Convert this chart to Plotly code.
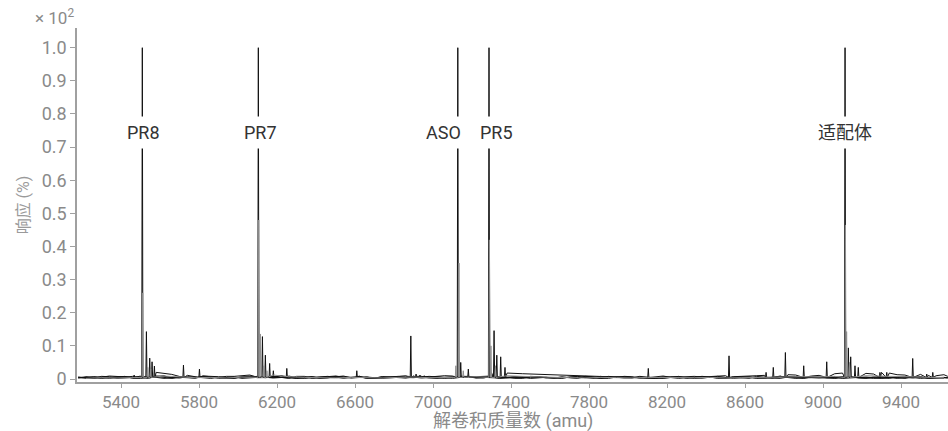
import plotly.graph_objects as go

# ---------------- data (response in %, mass in amu) ----------------
GRID_A = [5180, 5260, 5340, 5420, 5500, 5580, 5660, 5740, 5820, 5900,
          5980, 6060, 6140, 6220, 6300, 6380, 6460, 6540, 6620, 6700,
          6780, 6860, 6940, 7020, 7100, 7180, 7260, 7340, 7420, 7500,
          7580, 7660, 7740, 7820, 7900, 7980, 8060, 8140, 8220, 8300,
          8380, 8460, 8540, 8620, 8700, 8780, 8860, 8940, 9020, 9100,
          9180, 9260, 9340, 9420, 9500, 9580, 9640]
GRID_B = [5220, 5300, 5380, 5460, 5540, 5620, 5700, 5780, 5860, 5940,
          6020, 6100, 6180, 6260, 6340, 6420, 6500, 6580, 6660, 6740,
          6820, 6900, 6980, 7060, 7140, 7220, 7300, 7380, 7460, 7540,
          7620, 7700, 7780, 7860, 7940, 8020, 8100, 8180, 8260, 8340,
          8420, 8500, 8580, 8660, 8740, 8820, 8900, 8980, 9060, 9140,
          9220, 9300, 9380, 9460, 9540, 9620]

PR8_BASE = [0.6, 0.2, 0.9, 0.5, 0.9, 2.0, 1.4, 1.1, 0.9, 0.7,
            0.3, 0.9, 0.4, 1.0, 0.2, 0.5, 0.8, 0.3, 0.6, 0.2,
            0.5, 0.9, 0.3, 0.6, 0.2, 0.8, 0.5, 0.3, 0.7, 0.2,
            0.5, 0.3, 0.8, 0.2, 0.5, 0.7, 0.3, 0.2, 0.7, 0.5,
            0.3, 0.8, 0.2, 0.5, 0.3, 0.7, 0.2, 0.6, 0.3, 0.7,
            0.5, 0.2, 0.4, 0.7, 0.2, 0.5, 0.4]
PR8_PEAK_X = [5467, 5509, 5530, 5547, 5559, 5571, 5720, 5802]
PR8_PEAK_Y = [1.2, 100, 14.3, 6.3, 5.2, 3.9, 4.2, 3.0]

PR7_BASE = [0.4, 0.8, 0.2, 0.6, 0.5, 0.9, 0.3, 0.6, 0.2, 0.8,
            0.9, 1.6, 1.3, 0.9, 0.6, 0.3, 0.8, 0.5, 0.2, 0.7,
            0.3, 0.8, 0.5, 0.2, 0.6, 0.3, 0.9, 0.5, 0.2, 0.7,
            0.3, 0.5, 0.8, 0.2, 0.6, 0.3, 0.5, 0.2, 0.8, 0.4,
            0.6, 0.2, 0.5, 0.8, 0.3, 0.6, 0.2, 0.5, 0.3, 0.8,
            0.2, 0.5, 0.7, 0.3, 0.2, 0.5]
PR7_EXTRA = [0.5, 0.2, 0.7, 0.3, 0.6, 0.9, 0.4, 0.7, 0.3, 0.5,
             0.8, 1.2, 1.4, 1.0, 0.4, 0.7, 0.3, 0.6, 0.9, 0.3,
             0.6, 0.4, 0.8, 0.3, 0.5, 0.7, 0.3, 0.6, 0.2, 0.7,
             0.4, 0.6, 0.3, 0.7, 0.2, 0.5, 0.8, 0.3, 0.6, 0.2,
             0.7, 0.4, 0.6, 0.2, 0.5, 0.8, 0.3, 0.6, 0.4, 0.7,
             0.3, 0.6, 0.2, 0.5, 0.7, 0.3, 0.4]
PR7_PEAK_X = [6104, 6125, 6140, 6162, 6181, 6250, 6609]
PR7_PEAK_Y = [100, 12.8, 7.2, 4.7, 2.5, 3.2, 2.5]

ASO_BASE = [0.3, 0.6, 0.4, 0.8, 0.2, 0.6, 0.4, 0.5, 0.9, 0.2,
            0.6, 0.4, 0.8, 0.5, 0.2, 0.7, 0.4, 0.9, 0.5, 0.2,
            0.6, 0.9, 1.0, 0.7, 0.9, 1.4, 0.8, 0.6, 0.5, 0.8,
            0.3, 0.6, 0.2, 0.5, 0.8, 0.3, 0.6, 0.2, 0.5, 0.4,
            0.8, 0.2, 0.5, 0.7, 0.3, 0.2, 0.7, 0.4, 0.5, 0.2,
            0.6, 0.4, 0.5, 0.2, 0.6, 0.4, 0.3]
ASO_EXTRA = [0.7, 0.3, 0.5, 0.2, 0.6, 0.9, 0.5, 0.3, 0.7, 0.4,
             0.2, 0.6, 0.8, 0.3, 0.5, 0.2, 0.7, 0.4, 0.6, 0.3,
             0.8, 0.9, 0.6, 1.0, 1.2, 0.7, 0.9, 0.6, 0.4, 0.7,
             0.3, 0.5, 0.7, 0.2, 0.6, 0.4, 0.3, 0.7, 0.2, 0.5,
             0.6, 0.3, 0.7, 0.4, 0.2, 0.6, 0.5, 0.3, 0.7, 0.4,
             0.6, 0.2, 0.5, 0.7, 0.3, 0.5]
ASO_PEAK_X = [6886, 6913, 6933, 6955, 7127, 7142, 7181]
ASO_PEAK_Y = [13.0, 1.5, 1.2, 1.0, 100, 5.0, 3.0]

PR5_BASE = [0.5, 0.2, 0.7, 0.4, 0.8, 0.2, 0.5, 0.4, 0.7, 0.2,
            0.5, 0.8, 0.3, 0.6, 0.2, 0.5, 0.9, 0.3, 0.6, 0.2,
            0.5, 0.4, 0.8, 0.5, 0.8, 0.6, 1.9, 1.8, 1.6, 1.4,
            1.3, 1.1, 0.9, 0.7, 0.6, 0.5, 0.8, 0.3, 0.6, 0.2,
            0.5, 0.3, 0.7, 0.2, 0.5, 0.8, 0.3, 0.6, 0.2, 0.5,
            0.4, 0.7, 0.2, 0.5, 0.4, 0.3]
PR5_PEAK_X = [7287, 7313, 7327, 7347, 7369, 8104]
PR5_PEAK_Y = [100, 14.6, 7.2, 6.7, 3.5, 3.2]

ADP_BASE = [0.4, 0.7, 0.2, 0.5, 0.4, 0.8, 0.2, 0.5, 0.7, 0.3,
            0.2, 0.7, 0.4, 0.5, 0.8, 0.2, 0.5, 0.3, 0.7, 0.2,
            0.5, 0.3, 0.7, 0.2, 0.5, 0.8, 0.4, 0.2, 0.7, 0.4,
            0.5, 0.2, 0.7, 0.4, 0.5, 0.8, 0.3, 0.6, 0.5, 0.9,
            0.6, 0.9, 0.7, 0.8, 1.1, 0.9, 1.2, 0.9, 1.3, 1.8,
            2.2, 1.5, 1.8, 1.2, 1.4, 1.0, 0.8]
ADP_EXTRA = [0.3, 0.6, 0.4, 0.8, 0.2, 0.5, 0.7, 0.3, 0.6, 0.2,
             0.7, 0.4, 0.5, 0.2, 0.8, 0.3, 0.6, 0.4, 0.2, 0.7,
             0.4, 0.6, 0.3, 0.5, 0.8, 0.4, 0.6, 0.3, 0.7, 0.5,
             0.3, 0.6, 0.4, 0.8, 0.5, 0.7, 0.4, 0.9, 0.6, 0.8,
             0.7, 1.0, 0.8, 1.0, 0.9, 1.3, 1.0, 1.1, 1.6, 2.6,
             1.7, 2.0, 1.3, 1.6, 1.1, 1.3]
ADP_PEAK_X = [8518, 8708, 8745, 8807, 8901, 9019, 9113, 9130, 9142, 9164, 9181, 9292, 9327, 9460, 9532, 9563]
ADP_PEAK_Y = [7.0, 2.0, 3.5, 8.0, 4.0, 5.2, 100, 9.4, 6.7, 4.0, 3.5, 2.0, 2.0, 6.2, 1.5, 2.0]

MIX_BASE = [0.2, 0.4, 0.3, 0.5, 1.5, 0.9, 0.6, 0.4, 0.5, 0.3,
            0.6, 0.8, 1.2, 0.7, 0.5, 0.4, 0.3, 0.5, 0.4, 0.3,
            0.5, 0.6, 0.4, 0.5, 1.0, 0.7, 1.2, 1.0, 0.8, 0.6,
            0.5, 0.4, 0.3, 0.5, 0.4, 0.3, 0.5, 0.4, 0.3, 0.4,
            0.5, 0.3, 0.4, 0.5, 0.6, 0.5, 0.7, 0.6, 0.8, 1.3,
            1.0, 0.9, 0.7, 0.6, 0.5, 0.4]
MIX_PEAK_X = [5511, 5537, 5552, 6106, 6114, 6132, 6148, 7117, 7133, 7155, 7289, 7297, 7320, 9115, 9121, 9136]
MIX_PEAK_Y = [26, 3.5, 3.0, 48, 13.6, 4.0, 2.5, 4.0, 35, 2.5, 42, 10, 4.0, 46.5, 14.3, 5.0]

LABELS = ["PR8", "PR7", "ASO", "PR5", "适配体"]
LABEL_X = [5509, 6104, 7127, 7287, 9113]
LABEL_SHIFT = [1, 2, -14, 7, 0]
LABEL_Y = 74.3

Y_TICKS = [0, 0.1, 0.2, 0.3, 0.4, 0.5, 0.6, 0.7, 0.8, 0.9, 1.0]
Y_TICKTEXT = ["0", "0.1", "0.2", "0.3", "0.4", "0.5", "0.6", "0.7", "0.8", "0.9", "1.0"]
X_TICKS = [5400, 5800, 6200, 6600, 7000, 7400, 7800, 8200, 8600, 9000, 9400]


def build(grids, bases, px, py, half=3.0, floor=0.5):
    pts = []
    for grid, base in zip(grids, bases):
        assert len(grid) == len(base)
        pts += [(g, b) for g, b in zip(grid, base)
                if all(abs(g - p) > half + 4 for p in px)]
    for p, h in zip(px, py):
        pts += [(p - half, floor), (p, h), (p + half, floor)]
    pts.sort()
    return [p[0] for p in pts], [p[1] / 100.0 for p in pts]


series = [
    ([GRID_A], [PR8_BASE], PR8_PEAK_X, PR8_PEAK_Y, "#111111"),
    ([GRID_B, GRID_A], [PR7_BASE, PR7_EXTRA], PR7_PEAK_X, PR7_PEAK_Y, "#111111"),
    ([GRID_A, GRID_B], [ASO_BASE, ASO_EXTRA], ASO_PEAK_X, ASO_PEAK_Y, "#111111"),
    ([GRID_B], [PR5_BASE], PR5_PEAK_X, PR5_PEAK_Y, "#111111"),
    ([GRID_A, GRID_B], [ADP_BASE, ADP_EXTRA], ADP_PEAK_X, ADP_PEAK_Y, "#111111"),
    ([GRID_B], [MIX_BASE], MIX_PEAK_X, MIX_PEAK_Y, "#8f8f8f"),
]

fig = go.Figure()
for grids, bases, px, py, col in series:
    xs, ys = build(grids, bases, px, py)
    fig.add_trace(go.Scatter(x=xs, y=ys, mode="lines",
                             line=dict(color=col, width=1), hoverinfo="skip",
                             showlegend=False))

FONT = "Roboto, 'Noto Sans CJK SC', sans-serif"
for t, x, s in zip(LABELS, LABEL_X, LABEL_SHIFT):
    fig.add_annotation(x=x, y=LABEL_Y / 100.0, text=t, showarrow=False,
                       xshift=s, bgcolor="white", borderpad=5,
                       font=dict(family=FONT, size=18, color="#333333"))

fig.add_annotation(xref="paper", yref="paper", x=0, y=1, xanchor="right",
                   yanchor="bottom", xshift=-1, yshift=-2,
                   text="× 10<sup>2</sup>", showarrow=False,
                   font=dict(family=FONT, size=17, color="#8a8a8a"))

# x-axis title placed beneath the tick labels
fig.add_annotation(xref="paper", yref="paper", x=0.5, y=0, xanchor="center",
                   yanchor="middle", yshift=-39, showarrow=False,
                   text="解卷积质量数 (amu)",
                   font=dict(family=FONT, size=18, color="#8a8a8a"))

fig.update_layout(
    width=948, height=431,
    margin=dict(l=77, r=0, t=28, b=49),
    paper_bgcolor="white", plot_bgcolor="white",
    font=dict(family=FONT, color="#8a8a8a"),
    xaxis=dict(range=[5174, 9641], tickvals=X_TICKS,
               showgrid=False, zeroline=False, showline=True,
               linecolor="#a0a0a0", linewidth=1.5, ticks="outside",
               ticklen=4, tickcolor="#a0a0a0",
               tickfont=dict(size=17, color="#8a8a8a")),
    yaxis=dict(range=[-0.009, 1.0595], tickvals=Y_TICKS, ticktext=Y_TICKTEXT,
               showgrid=False, zeroline=False, showline=True,
               linecolor="#a0a0a0", linewidth=1.5, ticks="outside",
               ticklen=5, tickcolor="#a0a0a0",
               tickfont=dict(size=18, color="#8a8a8a"),
               title=dict(text="响应 (%)", standoff=8,
                          font=dict(size=16, color="#9a9a9a"))),
)

fig.write_html("out.html", config={"displayModeBar": False},
               post_script="document.body.style.margin='0';document.body.style.overflow='hidden';")
